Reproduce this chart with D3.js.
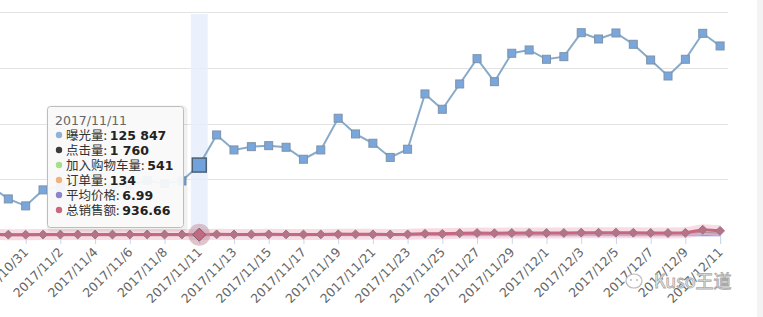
<!DOCTYPE html>
<html><head><meta charset="utf-8">
<script src="https://cdn.jsdelivr.net/npm/d3@7"></script>
<style>
html,body{margin:0;padding:0;background:#fff;overflow:hidden}
svg{display:block}
</style></head>
<body>
<svg id="chart" width="763" height="317"></svg>
<script>
// ---- data ----
const categories = [
 "2017/10/29","2017/10/30","2017/10/31","2017/11/1","2017/11/2","2017/11/3","2017/11/4","2017/11/5","2017/11/6","2017/11/7","2017/11/8","2017/11/9",
 "2017/11/11","2017/11/12","2017/11/13","2017/11/14","2017/11/15","2017/11/16","2017/11/17","2017/11/18","2017/11/19","2017/11/20",
 "2017/11/21","2017/11/22","2017/11/23","2017/11/24","2017/11/25","2017/11/26","2017/11/27","2017/11/28","2017/11/29","2017/11/30",
 "2017/12/1","2017/12/2","2017/12/3","2017/12/4","2017/12/5","2017/12/6","2017/12/7","2017/12/8","2017/12/9","2017/12/10","2017/12/11"];
const exposure = [
 87500,65100,52600,81300,88000,95000,92000,85000,90000,98000,93000,97400,
 125847,179900,153000,158900,160700,157800,136300,153000,209900,181700,
 165000,139600,154300,253500,226000,271400,316800,275500,326500,332400,
 315700,320400,363400,352100,362900,342600,314400,285700,315700,362300,339600];
const clicks = [
 1500,1400,1300,1500,1600,1600,1500,1500,1600,1700,1600,1700,
 1760,2100,2000,2000,2100,2000,1900,2000,2400,2200,
 2100,2000,2100,2800,2600,2900,3300,3000,3400,3500,
 3300,3400,3800,3700,3800,3600,3300,3100,3400,3900,3600];
const cart = [
 400,380,350,420,430,440,430,420,440,450,440,460,
 541,600,560,570,580,570,540,560,680,620,
 600,560,580,800,740,840,940,860,960,980,
 940,950,1050,1020,1040,1000,940,880,950,1060,1000];
const orders = [
 90,85,80,95,100,100,95,95,100,105,100,105,
 134,150,140,140,145,140,130,140,170,155,
 150,140,145,200,185,210,235,215,240,245,
 235,240,265,255,262,250,235,220,240,1500,270];
const avgPrice = [
 7.2,7.1,7.3,7.0,7.1,7.2,7.0,7.1,7.2,7.0,7.1,7.0,
 6.99,7.1,7.0,7.2,7.1,7.0,7.1,7.2,7.0,7.1,
 7.2,7.1,7.0,7.1,7.2,7.0,7.1,7.2,7.0,7.1,
 7.2,7.1,7.0,7.1,7.2,7.0,7.1,7.2,7.0,7.1,7.2];
const sales = [
 1100,1000,950,1100,1150,1200,1150,1100,1200,1250,1200,1250,
 936.66,1500,1400,1400,1500,1400,1300,1400,1700,1600,
 1500,1400,1500,2600,2400,3600,3900,3500,3900,4000,
 3900,4000,4600,4500,4600,4400,4100,3900,4300,9800,7800];
const tickLabels = categories.filter((d,i)=>i%2===0);
const yTicks = [0,100000,200000,300000,400000];
const seriesNames = ["曝光量","点击量","加入购物车量","订单量","平均价格","总销售额"];
const seriesColors = ["#8fb2d6","#3a3a3a","#a6df8c","#f2b27c","#8b86cc","#c9677f"];
const hoverIndex = 12;

// ---- chart ----
const svg = d3.select("#chart");
const x = d3.scalePoint().domain(categories).range([-9.06, 720.1]);
const y = d3.scaleLinear().domain([0,400000]).range([235.2,12.3]);

// right strip
svg.append("rect").attr("x",757).attr("y",0).attr("width",6).attr("height",317).attr("fill","#f3f3f3");

// grid
svg.append("g").selectAll("line").data(yTicks.slice(1)).join("line")
  .attr("x1",0).attr("x2",728).attr("y1",d=>Math.round(y(d))+0.5).attr("y2",d=>Math.round(y(d))+0.5)
  .attr("stroke","#e3e3e3").attr("stroke-width",1);

// crosshair band
const hx = x(categories[hoverIndex]);
svg.append("rect").attr("x",hx-8.5).attr("y",14).attr("width",17).attr("height",226).attr("fill","#e8effb").attr("opacity",0.85);

// x axis ticks & labels
const xAxis = d3.axisBottom(x).tickValues(tickLabels).tickSize(9).tickFormat(d=>d);
const gx = svg.append("g").attr("transform","translate(0,235)").call(xAxis);
gx.select(".domain").attr("stroke","#ccd6eb");
gx.selectAll(".tick line").attr("stroke","#ccd6eb");
gx.selectAll(".tick text")
  .attr("font-family","DejaVu Sans, sans-serif").attr("font-size","12.5px").attr("fill","#666")
  .attr("text-anchor","end").attr("dy",null).attr("y",0)
  .attr("transform","translate(3,18) rotate(-45)");

// lines
const line = arr => d3.line().x((d,i)=>x(categories[i])).y(d=>y(d))(arr);
// blue series
svg.append("path").attr("d",line(exposure)).attr("fill","none").attr("stroke","#88aac9").attr("stroke-width",2);
svg.append("g").selectAll("rect").data(exposure).join("rect")
  .attr("x",(d,i)=>x(categories[i])-4).attr("y",d=>y(d)-4).attr("width",8).attr("height",8)
  .attr("fill","#79a6dc").attr("stroke","#7d93a8").attr("stroke-width",1)
  .attr("display",(d,i)=>i===hoverIndex?"none":null);

// small series
const smalls = [[clicks,"#434348"],[cart,"#90d87d"],[orders,"#f7a35c"],[avgPrice,"#8085e9"]];
smalls.forEach(([arr,c])=>{
  svg.append("path").attr("d",line(arr)).attr("fill","none").attr("stroke",c).attr("stroke-width",2);
});
// sales halo + line
svg.append("path").attr("d",line(sales)).attr("fill","none").attr("stroke","#f2c4d0").attr("stroke-width",11).attr("opacity",0.6);
svg.append("path").attr("d",line(sales)).attr("fill","none").attr("stroke","#c96680").attr("stroke-width",3);
const diamond = d3.symbol().type(d3.symbolDiamond2).size(50);
svg.append("g").selectAll("path").data(sales).join("path")
  .attr("transform",(d,i)=>`translate(${x(categories[i])},${y(d)})`)
  .attr("d",diamond).attr("fill","#b77287").attr("stroke","#9a7684").attr("stroke-width",1)
  .attr("display",(d,i)=>i===hoverIndex?"none":null);

// hovered markers
svg.append("circle").attr("cx",hx).attr("cy",y(sales[hoverIndex])).attr("r",11).attr("fill","#c896a4").attr("opacity",0.55);
svg.append("path").attr("transform",`translate(${hx},${y(sales[hoverIndex])})`)
  .attr("d",d3.symbol().type(d3.symbolDiamond2).size(110)).attr("fill","#c06a83").attr("stroke","#7e5a68").attr("stroke-width",1);
svg.append("rect").attr("x",hx-7).attr("y",y(exposure[hoverIndex])-7).attr("width",14).attr("height",14)
  .attr("fill","#72a2dc").attr("stroke","#4d5f72").attr("stroke-width",1.5);

// tooltip
const tip = svg.append("g").attr("transform","translate(47,106)");
tip.append("rect").attr("x",1.5).attr("y",1.5).attr("width",137).attr("height",122).attr("rx",3)
  .attr("fill","none").attr("stroke","#000").attr("stroke-opacity",0.06).attr("stroke-width",4);
tip.append("rect").attr("x",0.5).attr("y",0.5).attr("width",136).attr("height",121).attr("rx",3)
  .attr("fill","#f9f9f9").attr("fill-opacity",0.95).attr("stroke","#bdbdbd").attr("stroke-width",1);
tip.append("text").attr("x",8).attr("y",19).attr("font-family","DejaVu Sans, sans-serif").attr("font-size","12.5px").attr("fill","#666")
  .text(categories[hoverIndex]);
const fmt = v => d3.format(",")(v).replace(/,/g," ");
const vals = [exposure,clicks,cart,orders,avgPrice,sales].map(a=>a[hoverIndex]);
const valTexts = vals.map((v,i)=> i>=4 ? d3.format(".2f")(v) : fmt(v));
seriesNames.forEach((n,i)=>{
  const ry = 29 + i*15;
  tip.append("circle").attr("cx",12).attr("cy",ry).attr("r",3.2).attr("fill",seriesColors[i]);
  const t = tip.append("text").attr("x",19).attr("y",ry+4.5).attr("font-size","12.5px")
    .attr("font-family","Noto Sans CJK SC, sans-serif").attr("fill","#333");
  t.append("tspan").text(n+": ");
  t.append("tspan").attr("font-weight","bold").attr("font-family","DejaVu Sans, sans-serif").attr("fill","#222").text(valTexts[i]);
});

// watermark
const wm = svg.append("g").attr("transform","translate(634,281)");
wm.append("ellipse").attr("cx",0).attr("cy",0).attr("rx",8).attr("ry",7).attr("fill","#fff").attr("stroke","#bbb").attr("stroke-width",1.2);
wm.append("circle").attr("cx",-3).attr("cy",-1).attr("r",1).attr("fill","#bbb");
wm.append("circle").attr("cx",3).attr("cy",-1).attr("r",1).attr("fill","#bbb");
svg.append("text").attr("x",654).attr("y",288).attr("font-family","Noto Sans CJK SC, sans-serif").attr("font-size","18px")
  .attr("fill","#fff").attr("stroke","#aaa").attr("stroke-width",0.9).text("Kuso王道");
</script>
</body></html>
